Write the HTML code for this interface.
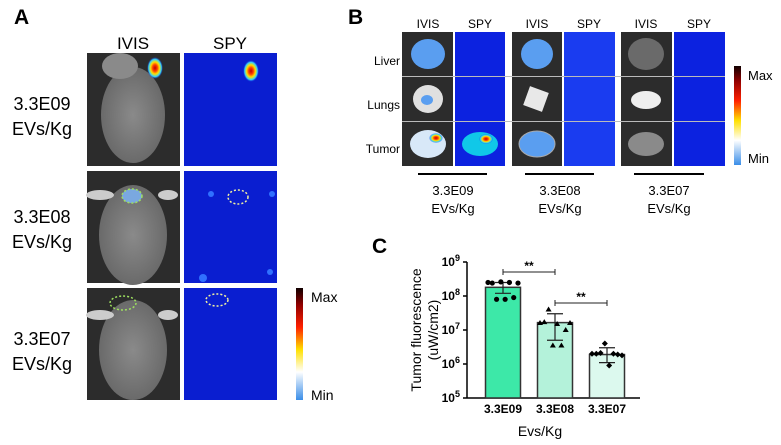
<!DOCTYPE html>
<html><head><meta charset="utf-8"><style>
body{margin:0;background:#fff;}
svg{display:block;font-family:"Liberation Sans",Arial,sans-serif;}
</style></head><body>
<svg width="781" height="445" viewBox="0 0 781 445">
<defs>
<linearGradient id="cbar" x1="0" y1="1" x2="0" y2="0">
<stop offset="0" stop-color="#3a8ee8"/><stop offset="0.25" stop-color="#ffffff"/><stop offset="0.45" stop-color="#ffe000"/><stop offset="0.65" stop-color="#ff2000"/><stop offset="0.85" stop-color="#900000"/><stop offset="1" stop-color="#100000"/>
</linearGradient>
<radialGradient id="hot"><stop offset="0" stop-color="#c00000"/><stop offset="0.3" stop-color="#ff4000"/><stop offset="0.55" stop-color="#ffe000"/><stop offset="0.8" stop-color="#30d0ff"/><stop offset="1" stop-color="#1020e0" stop-opacity="0"/></radialGradient>
<radialGradient id="mouseb"><stop offset="0" stop-color="#8a8a8a"/><stop offset="1" stop-color="#6a6a6a"/></radialGradient>
</defs>

<!-- Panel A -->
<text x="14" y="24" font-size="21" font-weight="bold">A</text>
<text x="133" y="49" font-size="17" text-anchor="middle">IVIS</text>
<text x="230" y="49" font-size="17" text-anchor="middle">SPY</text>
<g font-size="18" text-anchor="middle">
<text x="42" y="110">3.3E09</text><text x="42" y="135">EVs/Kg</text>
<text x="42" y="223">3.3E08</text><text x="42" y="248">EVs/Kg</text>
<text x="42" y="345">3.3E07</text><text x="42" y="370">EVs/Kg</text>
</g>
<g id="mice">
<g>
<rect x="87" y="53" width="93" height="113" fill="#2c2c2c"/>
<ellipse cx="133" cy="115" rx="32" ry="48" fill="url(#mouseb)"/>
<ellipse cx="120" cy="66" rx="18" ry="13" fill="#8a8a8a"/>
<ellipse cx="155" cy="68" rx="8" ry="11" fill="url(#hot)"/>
</g>
<g>
<rect x="87" y="171" width="93" height="112" fill="#2c2c2c"/>
<ellipse cx="133" cy="235" rx="34" ry="50" fill="url(#mouseb)"/>
<ellipse cx="100" cy="195" rx="14" ry="5" fill="#ccc"/><ellipse cx="168" cy="195" rx="10" ry="5" fill="#ccc"/>
<ellipse cx="132" cy="196" rx="10" ry="7" fill="#7aa8e0" stroke="#9ee060" stroke-dasharray="2 2" stroke-width="1.5"/>
</g>
<g>
<rect x="87" y="288" width="93" height="112" fill="#2c2c2c"/>
<ellipse cx="133" cy="350" rx="34" ry="50" fill="url(#mouseb)"/>
<ellipse cx="100" cy="315" rx="14" ry="5" fill="#ccc"/><ellipse cx="168" cy="315" rx="10" ry="5" fill="#ccc"/>
<ellipse cx="123" cy="303" rx="13" ry="7" fill="none" stroke="#9ee060" stroke-dasharray="2 2" stroke-width="1.5"/>
</g>
<g>
<rect x="184" y="53" width="93" height="113" fill="#0a1ed0"/>
<ellipse cx="251" cy="71" rx="8" ry="11" fill="url(#hot)"/>
</g>
<g>
<rect x="184" y="171" width="93" height="112" fill="#0a1ed0"/>
<ellipse cx="238" cy="197" rx="10" ry="7" fill="none" stroke="#f0f0a0" stroke-dasharray="2 2" stroke-width="1.5"/>
<circle cx="211" cy="194" r="3" fill="#3070ff"/><circle cx="272" cy="194" r="3" fill="#3070ff"/>
<circle cx="203" cy="278" r="4" fill="#3070ff"/><circle cx="270" cy="272" r="3" fill="#3070ff"/>
</g>
<g>
<rect x="184" y="288" width="93" height="112" fill="#0a1ed0"/>
<ellipse cx="217" cy="300" rx="11" ry="6" fill="none" stroke="#f0f0a0" stroke-dasharray="2 2" stroke-width="1.5"/>
</g>
</g>
<rect x="296" y="288" width="7" height="112" fill="url(#cbar)"/>
<text x="311" y="302" font-size="14">Max</text>
<text x="311" y="400" font-size="14">Min</text>

<!-- Panel B -->
<text x="348" y="24" font-size="21" font-weight="bold">B</text>
<g font-size="12" text-anchor="middle">
<text x="428" y="28">IVIS</text><text x="480" y="28">SPY</text>
<text x="537" y="28">IVIS</text><text x="589" y="28">SPY</text>
<text x="646" y="28">IVIS</text><text x="699" y="28">SPY</text>
</g>
<g font-size="12" text-anchor="end">
<text x="400" y="65">Liver</text>
<text x="400" y="109">Lungs</text>
<text x="400" y="153">Tumor</text>
</g>
<g>
<rect x="402" y="32" width="51" height="134" fill="#2c2c2c"/>
<rect x="512" y="32" width="50" height="134" fill="#2c2c2c"/>
<rect x="621" y="32" width="51" height="134" fill="#2c2c2c"/>
<rect x="455" y="32" width="50" height="134" fill="#0c22e0"/>
<rect x="564" y="32" width="51" height="134" fill="#1a3cf0"/>
<rect x="674" y="32" width="51" height="134" fill="#0c22e0"/>
<g stroke="#bbbbbb" stroke-width="1"><line x1="402" y1="76.5" x2="725" y2="76.5"/><line x1="402" y1="121.5" x2="725" y2="121.5"/></g>
<ellipse cx="428" cy="54" rx="17" ry="15" fill="#5a9ef0"/>
<ellipse cx="428" cy="99" rx="15" ry="14" fill="#e0e0e0"/><ellipse cx="427" cy="100" rx="6" ry="5" fill="#5a9ef0"/>
<ellipse cx="428" cy="144" rx="18" ry="14" fill="#d8e8f8"/><ellipse cx="436" cy="138" rx="7" ry="5" fill="url(#hot)"/>
<ellipse cx="480" cy="144" rx="18" ry="12" fill="#10c8e8"/><ellipse cx="486" cy="139" rx="7" ry="5" fill="url(#hot)"/>
<ellipse cx="537" cy="54" rx="16" ry="15" fill="#5a9ef0"/>
<rect x="526" y="89" width="20" height="20" fill="#e8e8e8" transform="rotate(20 536 99)"/>
<ellipse cx="537" cy="144" rx="18" ry="13" fill="#5a9ef0" stroke="#aaa"/>
<ellipse cx="646" cy="54" rx="18" ry="16" fill="#6a6a6a"/>
<ellipse cx="646" cy="100" rx="15" ry="9" fill="#eeeeee"/>
<ellipse cx="646" cy="144" rx="18" ry="12" fill="#8a8a8a"/>
</g>
<rect x="734" y="66" width="7" height="99" fill="url(#cbar)"/>
<text x="748" y="80" font-size="13">Max</text>
<text x="748" y="163" font-size="13">Min</text>
<g stroke="#000" stroke-width="2">
<line x1="418" y1="174" x2="487" y2="174"/>
<line x1="525" y1="174" x2="594" y2="174"/>
<line x1="634" y1="174" x2="704" y2="174"/>
</g>
<g font-size="13" text-anchor="middle">
<text x="453" y="195">3.3E09</text><text x="453" y="213">EVs/Kg</text>
<text x="560" y="195">3.3E08</text><text x="560" y="213">EVs/Kg</text>
<text x="669" y="195">3.3E07</text><text x="669" y="213">EVs/Kg</text>
</g>

<!-- Panel C -->
<text x="372" y="253" font-size="21" font-weight="bold">C</text>
<g id="chart"></g>
<text x="540" y="436" font-size="14" text-anchor="middle">Evs/Kg</text>
<text transform="translate(421 330) rotate(-90)" font-size="14" text-anchor="middle">Tumor fluorescence</text>
<text transform="translate(438 330) rotate(-90)" font-size="14" text-anchor="middle">(uW/cm2)</text>
</svg>
<script>
const categories = ["3.3E09","3.3E08","3.3E07"];
const means = [1.8e8, 1.65e7, 1.9e6];
const errLow = [1.2e8, 5e6, 1.1e6];
const errHigh = [2.5e8, 3e7, 3e6];
const points1 = [2.5e8,2.4e8,0.8e8,2.6e8,0.8e8,2.5e8,0.9e8,2.4e8];
const points2 = [1.6e7,1.7e7,4e7,3.5e6,1.5e7,3.5e6,1.0e7,1.6e7];
const points3 = [2e6,2e6,2.1e6,4e6,0.9e6,2e6,1.9e6,1.8e6];
const yTicks = [5,6,7,8,9];
const barColors = ["#3de8a8","#b4f2da","#dcf9ee"];
const markers = ["circle","triangle","diamond"];

const NS="http://www.w3.org/2000/svg";
const g=document.getElementById('chart');
const axX=467, yTop=262, yBot=398, lmin=5, lmax=9;
function yScale(v){return yBot-(Math.log10(v)-lmin)/(lmax-lmin)*(yBot-yTop);}
const bandStart=477, band=52, barW=35;
function xCenter(i){return bandStart+band*i+band/2;}
function mk(tag,attrs){const e=document.createElementNS(NS,tag);for(const k in attrs)e.setAttribute(k,attrs[k]);g.appendChild(e);return e;}

let e=mk('line',{x1:axX,y1:yTop,x2:axX,y2:yBot,stroke:'#000','stroke-width':1.5});


e=mk('line',{x1:axX,y1:yBot,x2:640,y2:yBot,stroke:'#000','stroke-width':1.5});


yTicks.forEach(t=>{
  const y=yScale(Math.pow(10,t));
  let l=mk('line',{x1:axX-4,y1:y,x2:axX,y2:y,stroke:'#000','stroke-width':1.5});
  
  
  let tx=mk('text',{x:axX-7,y:y+4,'font-size':12,'font-weight':'bold','text-anchor':'end'});
  
  
  tx.textContent='10';
  const s=document.createElementNS(NS,'tspan');s.setAttribute('dy','-5');s.setAttribute('font-size','9');s.textContent=t;tx.appendChild(s);
});
const allPts=[points1,points2,points3];
categories.forEach((c,i)=>{
  const cx=xCenter(i);
  const y=yScale(means[i]);
  let b=mk('rect',{x:cx-barW/2,y:y,width:barW,height:yBot-y,fill:barColors[i],stroke:'#333','stroke-width':1.5});
  
  
  const yl=yScale(errLow[i]), yh=yScale(errHigh[i]);
  let er=mk('path',{d:`M${cx},${yl}V${yh}M${cx-8},${yl}H${cx+8}M${cx-8},${yh}H${cx+8}`,stroke:'#222','stroke-width':1.2,fill:'none'});
  
  
  const pts=allPts[i];
  pts.forEach((v,j)=>{
    const px=cx-15+j*30/7, py=yScale(v);
    let m;
    if(markers[i]==='circle') m=mk('circle',{cx:px,cy:py,r:2.6,fill:'#000'});
    else if(markers[i]==='triangle') m=mk('path',{d:`M${px},${py-3}L${px+3},${py+2}L${px-3},${py+2}Z`,fill:'#000'});
    else m=mk('path',{d:`M${px},${py-3}L${px+3},${py}L${px},${py+3}L${px-3},${py}Z`,fill:'#000'});
    
    
  });
  let lab=mk('text',{x:cx,y:yBot+15,'font-size':12,'font-weight':'bold','text-anchor':'middle'});
  
  
  lab.textContent=c;
});
function bracket(a,b,y,name){
  const x1=xCenter(a),x2=xCenter(b);
  let p=mk('path',{d:`M${x1},${y-3}V${y+3}M${x1},${y}H${x2}M${x2},${y-3}V${y+3}`,stroke:'#222','stroke-width':1,fill:'none'});
  
  
  let t=mk('text',{x:(x1+x2)/2,y:y-2,'font-size':12,'font-weight':'bold','text-anchor':'middle'});
  
  
  t.textContent='**';
}
bracket(0,1,272,'significance-1-2');
bracket(1,2,303,'significance-2-3');
</script>
</body></html>
